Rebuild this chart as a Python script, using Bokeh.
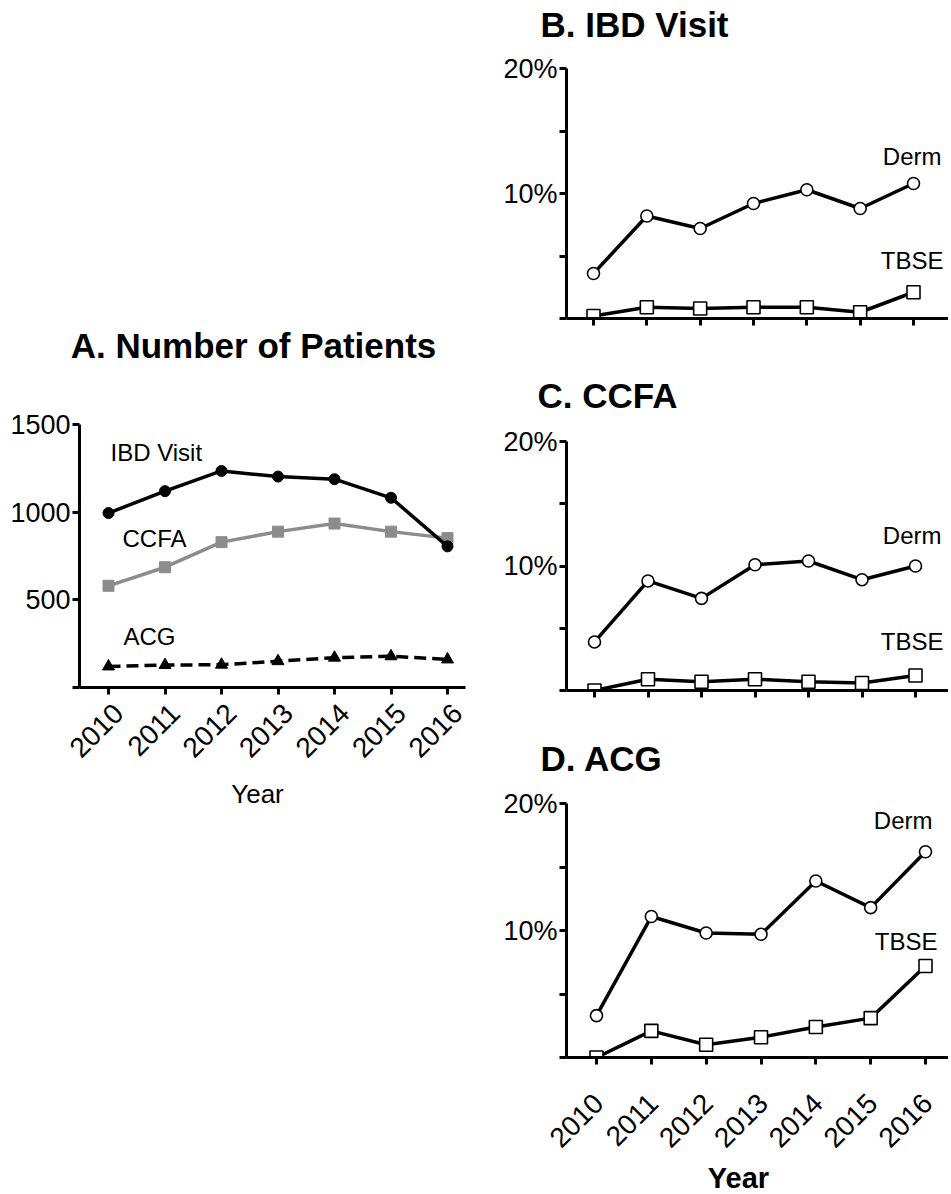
import math
from bokeh.plotting import figure
from bokeh.models import FixedTicker, Label, Range1d, LinearAxis
from bokeh.layouts import row, column
from bokeh.embed import file_html
from bokeh.resources import INLINE

# ---------------- data ----------------
years = [2010, 2011, 2012, 2013, 2014, 2015, 2016]
year_labels = ["2010", "2011", "2012", "2013", "2014", "2015", "2016"]

patients_ibd = [995, 1120, 1235, 1203, 1188, 1082, 805]
patients_ccfa = [580, 686, 829, 889, 935, 889, 852]
patients_acg = [120, 128, 130, 150, 170, 178, 160]

ibd_derm = [3.6, 8.2, 7.2, 9.2, 10.3, 8.8, 10.8]
ibd_tbse = [0.2, 0.9, 0.8, 0.9, 0.9, 0.5, 2.1]
ccfa_derm = [3.9, 8.8, 7.4, 10.1, 10.4, 8.9, 10.0]
ccfa_tbse = [0.0, 0.9, 0.7, 0.9, 0.7, 0.6, 1.2]
acg_derm = [3.3, 11.1, 9.8, 9.7, 13.9, 11.8, 16.2]
acg_tbse = [0.0, 2.1, 1.0, 1.6, 2.4, 3.1, 7.2]

count_ticks = [0, 500, 1000, 1500]
count_tick_labels = ["", "500", "1000", "1500"]
pct_ticks = [0, 5, 10, 15, 20]
pct_tick_labels = ["", "", "10%", "", "20%"]

titles = ["A. Number of Patients", "B. IBD Visit", "C. CCFA", "D. ACG"]
series_a = ["IBD Visit", "CCFA", "ACG"]
series_pct = ["Derm", "TBSE"]
x_title = "Year"

# ---------------- style ----------------
FONT = "Liberation Sans"
BLACK = "#000000"
GREY = "#8c8c8c"
AXW = 3
LW = 3.5


def no_align(p):
    if "frame_align" in p.properties():
        p.frame_align = False


def make_fig(W, H, ox, oy, fl, fr, fb, px2010, px2016, ymax_val, ymax_py):
    """All pixel arguments are page coordinates; (ox, oy) is the figure origin."""
    xs = (px2016 - px2010) / 6.0
    ys = (fb - ymax_py) / ymax_val
    p = figure(width=W, height=H,
               x_range=Range1d(2010 - (px2010 - fl) / xs, 2016 + (fr - px2016) / xs),
               y_range=Range1d(0, (fb - oy) / ys),
               min_border_left=fl - ox, min_border_right=ox + W - fr,
               min_border_top=0, min_border_bottom=oy + H - fb,
               output_backend="svg", toolbar_location=None)
    no_align(p)
    p.outline_line_color = None
    p.xgrid.grid_line_color = None
    p.ygrid.grid_line_color = None
    for ax in (p.xaxis[0], p.yaxis[0]):
        ax.axis_line_width = AXW
        ax.axis_line_color = BLACK
        ax.major_tick_line_width = AXW
        ax.major_tick_line_color = BLACK
        ax.major_tick_out = 7
        ax.major_tick_in = 0
        ax.minor_tick_line_color = None
        ax.major_label_text_font = FONT
        ax.major_label_text_font_size = "27px"
        ax.major_label_text_color = BLACK
    p.xaxis[0].ticker = FixedTicker(ticks=years)
    p.xaxis[0].major_label_overrides = {y: "" for y in years}
    p.xaxis[0].major_label_text_font_size = "0px"
    p.xaxis[0].major_label_standoff = 0
    p.yaxis[0].major_label_standoff = 2

    def to_data(px, py):
        return 2010 + (px - px2010) / xs, (fb - py) / ys
    return p, to_data, xs


def add_year_axis(p, xs, shift_px, standoff, size):
    r = p.x_range
    p.extra_x_ranges = {"lab": Range1d(r.start - shift_px / xs, r.end - shift_px / xs)}
    ax = LinearAxis(x_range_name="lab", ticker=FixedTicker(ticks=years),
                    major_label_overrides=dict(zip(years, year_labels)),
                    axis_line_color=None, major_tick_line_color=None,
                    minor_tick_line_color=None, major_tick_out=0, major_tick_in=0,
                    major_label_orientation=math.pi / 4,
                    major_label_standoff=standoff,
                    major_label_text_font=FONT, major_label_text_font_size=size,
                    major_label_text_color=BLACK)
    p.add_layout(ax, "below")


def add_label(p, to_data, px, py, text, size, align, bold=False):
    x, y = to_data(px, py)
    p.add_layout(Label(x=x, y=y, text=text, text_font=FONT,
                       text_font_size=size, text_align=align,
                       text_baseline="middle", text_color=BLACK,
                       text_font_style="bold" if bold else "normal"))


def text_fig(W, H, items):
    """A bare canvas (no axes) used for titles; positions are pixels in the canvas."""
    p = figure(width=W, height=H, x_range=Range1d(0, W), y_range=Range1d(H, 0),
               x_axis_location=None, y_axis_location=None, min_border=0,
               min_border_left=0, min_border_right=0, min_border_top=0,
               min_border_bottom=0, output_backend="svg", toolbar_location=None)
    no_align(p)
    p.outline_line_color = None
    p.grid.visible = False
    for (x, y, text, size, align, bold) in items:
        p.add_layout(Label(x=x, y=y, text=text, text_font=FONT,
                           text_font_size=size, text_align=align,
                           text_baseline="middle", text_color=BLACK,
                           text_font_style="bold" if bold else "normal"))
    return p


# ---------------- panel A (left column) ----------------
titleA = text_fig(478, 380, [(253, 345, titles[0], "35px", "center", True)])
pA, dA, xsA = make_fig(478, 398, 0, 380, 79, 465, 687, 108, 447, 1500, 424)
pA.yaxis[0].ticker = FixedTicker(ticks=count_ticks)
pA.yaxis[0].major_label_overrides = dict(zip(count_ticks, count_tick_labels))
pA.yaxis[0].bounds = (0, 1500)
add_year_axis(pA, xsA, 10, 14, "28px")

pA.line(years, patients_acg, line_color=BLACK, line_width=LW, line_dash="12 6")
pA.scatter(years, patients_acg, marker="triangle", size=12, fill_color=BLACK, line_color=BLACK)
pA.line(years, patients_ccfa, line_color=GREY, line_width=LW)
pA.scatter(years, patients_ccfa, marker="square", size=11, fill_color=GREY, line_color=GREY)
pA.line(years, patients_ibd, line_color=BLACK, line_width=LW)
pA.scatter(years, patients_ibd, marker="circle", size=11, fill_color=BLACK, line_color=BLACK)

add_label(pA, dA, 110, 452, series_a[0], "24px", "left")
add_label(pA, dA, 122, 538, series_a[1], "24px", "left")
add_label(pA, dA, 123, 636, series_a[2], "24px", "left")

yearA = text_fig(478, 44, [(257, 15, x_title, "26px", "center", False)])
left = column(titleA, pA, yearA, spacing=0)


# ---------------- panels B, C, D (right column) ----------------
RX, RW = 478, 470


def pct_panel(H, oy, fb, px2010, px2016, ymax_py, derm, tbse, derm_pos, tbse_pos):
    p, d, xs = make_fig(RW, H, RX, oy, 566, RX + RW, fb, px2010, px2016, 20, ymax_py)
    p.yaxis[0].ticker = FixedTicker(ticks=pct_ticks)
    p.yaxis[0].major_label_overrides = dict(zip(pct_ticks, pct_tick_labels))
    p.yaxis[0].bounds = (0, 20)
    p.line(years, derm, line_color=BLACK, line_width=LW)
    p.scatter(years, derm, marker="circle", size=12, fill_color="white",
              line_color=BLACK, line_width=1.6)
    p.line(years, tbse, line_color=BLACK, line_width=LW)
    p.scatter(years, tbse, marker="square", size=13, fill_color="white",
              line_color=BLACK, line_width=1.6)
    add_label(p, d, derm_pos[0], derm_pos[1], series_pct[0], "24px", "right")
    add_label(p, d, tbse_pos[0], tbse_pos[1], series_pct[1], "24px", "right")
    return p, xs


titleB = text_fig(RW, 50, [(62, 24, titles[1], "35px", "left", True)])
pB, _ = pct_panel(295, 50, 318, 593, 913, 68, ibd_derm, ibd_tbse, (941, 156), (943, 260))
titleC = text_fig(RW, 70, [(59, 50, titles[2], "35px", "left", True)])
pC, _ = pct_panel(320, 415, 690, 594, 915, 441, ccfa_derm, ccfa_tbse, (941, 535), (943, 641))
titleD = text_fig(RW, 48, [(62, 23, titles[3], "35px", "left", True)])
pD, xsD = pct_panel(377, 783, 1057, 596, 925, 803, acg_derm, acg_tbse, (932, 820), (937, 941))
add_year_axis(pD, xsD, 2, 34, "28px")
yearD = text_fig(RW, 34, [(260, 17, x_title, "29px", "center", True)])

right = column(titleB, pB, titleC, pC, titleD, pD, yearD, spacing=0)

layout = row(left, right, spacing=0)

open("out.html", "w").write(file_html(layout, INLINE))
